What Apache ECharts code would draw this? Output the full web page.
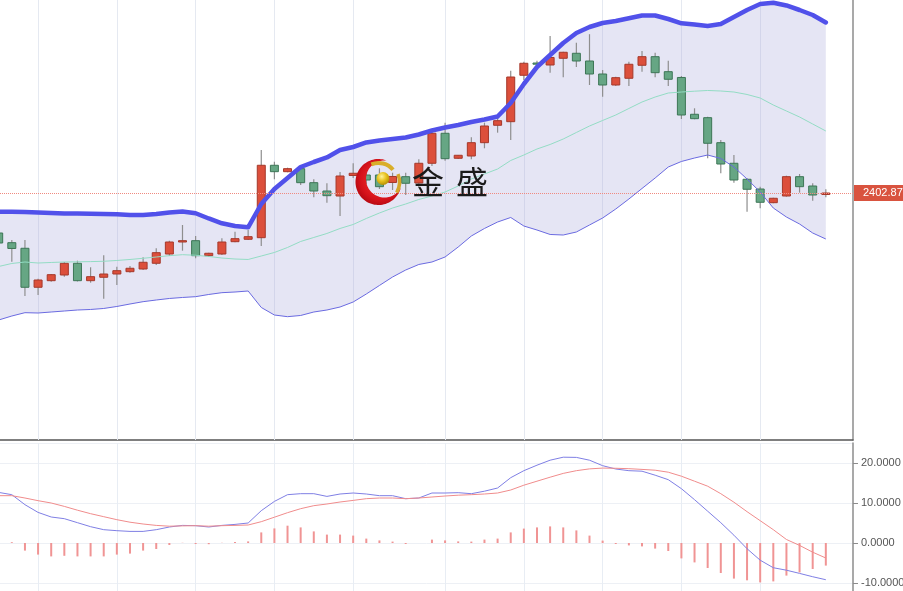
<!DOCTYPE html>
<html>
<head>
<meta charset="utf-8">
<script src="https://cdn.jsdelivr.net/npm/echarts@6/dist/echarts.min.js"></script>
<style>
html,body{margin:0;padding:0;background:#ffffff;}
#c{width:903px;height:591px;}
</style>
</head>
<body>
<div id="c"></div>
<script>
// ---------- DATA ----------
const opens = [2392.87,2390.45,2389.05,2379.30,2380.95,2382.37,2385.30,2380.95,2381.80,2382.62,
  2383.20,2383.87,2385.30,2387.62,2390.62,2390.95,2387.20,2387.62,2390.70,2391.30,
  2391.70,2409.80,2408.20,2408.95,2405.45,2403.37,2402.12,2407.25,2407.37,2407.37,
  2405.50,2406.95,2405.37,2410.30,2417.80,2411.55,2412.12,2415.45,2419.80,2420.70,
  2432.30,2435.37,2434.87,2436.55,2437.80,2435.87,2432.62,2429.87,2431.55,2434.80,
  2436.95,2433.20,2431.75,2422.55,2421.70,2415.45,2410.30,2406.30,2403.87,2400.45,
  2402.12,2406.95,2404.62,2402.50];
const closes = [2390.37,2389.00,2379.30,2381.12,2382.45,2385.30,2380.95,2381.95,2382.62,2383.45,
  2384.05,2385.55,2387.95,2390.62,2390.95,2387.20,2387.80,2390.62,2391.45,2391.95,
  2409.80,2408.20,2408.95,2405.45,2403.37,2402.20,2407.12,2407.80,2406.12,2404.45,
  2407.00,2405.30,2410.30,2417.80,2411.45,2412.30,2415.45,2419.62,2420.95,2431.87,
  2435.30,2435.12,2436.75,2438.05,2435.87,2432.62,2429.87,2431.70,2435.05,2436.95,
  2432.95,2431.30,2422.37,2421.45,2415.30,2410.12,2406.12,2403.80,2400.55,2401.55,
  2406.95,2404.45,2402.37,2402.87];
const lows = [2389.62,2385.70,2377.12,2377.37,2380.70,2381.95,2380.75,2380.45,2376.45,2379.87,
  2382.95,2383.62,2384.87,2387.12,2388.45,2386.55,2386.95,2387.37,2390.55,2391.12,
  2389.62,2406.30,2408.05,2404.87,2401.80,2400.45,2397.12,2406.62,2405.12,2403.87,
  2403.62,2402.37,2404.12,2409.62,2410.95,2411.37,2411.30,2414.05,2417.95,2416.12,
  2431.12,2434.45,2432.95,2431.80,2434.37,2429.87,2426.95,2429.62,2429.62,2433.20,
  2431.80,2429.62,2421.37,2421.30,2411.55,2407.80,2405.45,2398.20,2399.05,2400.30,
  2401.95,2402.95,2400.95,2401.80];
const highs = [2393.62,2391.12,2391.12,2381.45,2382.62,2385.62,2385.95,2384.30,2387.30,2384.45,
  2384.62,2386.80,2389.05,2390.95,2394.87,2392.12,2387.95,2391.55,2393.20,2393.62,
  2413.62,2410.70,2409.20,2409.30,2406.30,2405.30,2408.12,2410.30,2408.37,2409.05,
  2407.95,2407.95,2411.30,2418.80,2420.45,2412.37,2416.80,2420.45,2421.95,2433.45,
  2435.70,2435.95,2442.12,2438.20,2440.45,2442.57,2433.62,2431.95,2435.70,2438.37,
  2437.95,2435.95,2432.12,2424.05,2421.95,2416.12,2412.37,2406.55,2404.45,2401.70,
  2407.20,2407.62,2405.30,2403.80];

const bollUpper = [2398.20,2398.20,2398.12,2398.00,2397.87,2397.75,2397.75,2397.70,2397.62,2397.55,
  2397.37,2397.37,2397.62,2398.00,2398.25,2397.80,2396.50,2395.30,2394.62,2394.30,
  2400.12,2403.87,2406.62,2409.37,2410.62,2411.75,2413.62,2414.37,2415.50,2416.00,
  2416.37,2416.75,2417.50,2418.50,2419.25,2419.87,2420.62,2421.25,2422.00,2425.37,
  2430.12,2434.37,2437.37,2440.37,2442.87,2444.37,2445.37,2445.87,2446.55,2447.25,
  2447.25,2446.37,2445.30,2445.00,2444.62,2445.12,2446.87,2448.62,2450.12,2450.45,
  2449.75,2448.62,2447.37,2445.50];
const bollMid = [2384.50,2385.25,2385.62,2385.37,2385.50,2385.62,2385.67,2385.72,2385.80,2386.00,
  2386.25,2386.55,2386.87,2387.20,2387.45,2387.30,2387.00,2386.62,2386.37,2386.25,
  2387.12,2388.00,2389.25,2390.75,2391.75,2392.75,2394.00,2395.00,2396.50,2397.87,
  2399.12,2400.12,2401.25,2402.12,2403.12,2404.62,2406.37,2407.62,2408.87,2411.00,
  2412.37,2413.87,2415.00,2416.37,2418.00,2419.62,2421.00,2422.37,2424.00,2425.62,
  2426.87,2427.87,2428.12,2428.32,2428.50,2428.37,2428.12,2427.50,2426.62,2424.87,
  2423.37,2421.87,2420.12,2418.37];
const bollLower = [2371.12,2372.12,2372.95,2372.87,2373.12,2373.37,2373.62,2373.75,2374.00,2374.50,
  2375.12,2375.70,2376.12,2376.50,2376.75,2376.95,2377.50,2377.95,2378.12,2378.37,
  2374.25,2372.37,2371.95,2372.25,2373.12,2373.62,2374.37,2375.62,2377.62,2379.75,
  2381.87,2383.62,2385.00,2385.62,2386.87,2389.37,2392.12,2394.00,2395.62,2396.75,
  2394.62,2393.62,2392.50,2392.37,2393.12,2394.87,2396.62,2398.87,2401.37,2404.00,
  2406.62,2409.37,2410.75,2411.62,2412.37,2411.50,2409.37,2406.37,2403.12,2399.12,
  2396.87,2395.12,2392.87,2391.37];

const macdDif = [12.65,12.08,9.58,7.65,6.50,6.08,5.08,4.08,3.33,3.08,
  2.90,2.90,3.33,4.00,4.40,4.33,4.00,4.40,4.65,5.00,
  8.08,10.40,12.08,12.33,12.33,11.65,12.25,12.50,12.25,11.83,
  11.83,11.08,11.25,12.50,12.50,12.58,12.33,12.95,13.75,16.33,
  18.08,19.45,20.70,21.45,21.40,20.70,19.33,18.50,18.08,17.95,
  16.95,15.83,13.58,10.83,7.95,5.08,1.95,-1.43,-4.30,-6.18,
  -6.80,-7.60,-8.43,-9.18];
const macdDea = [11.83,11.83,11.25,10.58,10.00,9.15,8.20,7.33,6.58,5.83,
  5.20,4.75,4.40,4.20,4.28,4.33,4.20,4.33,4.40,4.50,
  5.33,6.45,7.58,8.58,9.33,9.75,10.25,10.65,11.08,11.25,
  11.25,11.08,11.25,11.50,11.75,11.95,12.08,12.25,12.50,13.25,
  14.45,15.45,16.45,17.40,18.08,18.53,18.73,18.68,18.58,18.40,
  18.20,17.70,16.70,15.45,14.20,12.33,10.20,7.83,5.58,3.33,
  0.88,-0.60,-2.30,-3.75];
const macdHist = [0.80,0.20,-1.90,-2.90,-3.35,-3.20,-3.35,-3.35,-3.35,-2.90,
  -2.65,-1.90,-1.50,-0.50,0.05,-0.25,-0.30,0.05,0.25,0.40,
  2.65,3.65,4.33,3.90,2.90,2.10,2.10,1.85,1.10,0.65,
  0.35,-0.25,0.00,0.85,0.65,0.40,0.35,0.85,1.10,2.65,
  3.60,3.90,4.15,3.90,3.15,1.85,0.60,-0.25,-0.60,-0.85,
  -1.40,-2.00,-3.85,-4.85,-6.25,-7.50,-8.90,-9.33,-9.85,-9.60,
  -8.15,-7.35,-6.50,-5.65];

const gridBars = [3, 9, 15, 21, 27, 34, 40, 46, 52, 58];   // bars carrying a vertical grid line
const lastPrice = 2402.87;
const lastPriceLabel = '2402.870';
const macdTickDigits = 4;
const logoText = ['金', '盛'];

// ---------- BUILD ----------
const idx = opens.map((_, i) => i);
const candleData = idx.map(i => [i, opens[i], closes[i], lows[i], highs[i]]);
const pair = arr => arr.map((v, i) => [i, v]);

const X_MIN = 0.1, X_MAX = 65.07;

function renderCandle(params, api) {
  const i = api.value(0);
  const o = api.value(1), c = api.value(2), l = api.value(3), h = api.value(4);
  const pO = api.coord([i, o]), pC = api.coord([i, c]);
  const pL = api.coord([i, l]), pH = api.coord([i, h]);
  const up = c >= o;
  const w = 8;
  const top = Math.min(pO[1], pC[1]);
  const hgt = Math.max(Math.abs(pO[1] - pC[1]), 1.2);
  return {
    type: 'group',
    children: [
      { type: 'line', shape: { x1: pH[0], y1: pH[1], x2: pL[0], y2: pL[1] },
        style: { stroke: '#8e8e8e', lineWidth: 1.2 } },
      { type: 'rect', shape: { x: pO[0] - w / 2, y: top, width: w, height: hgt },
        style: { fill: up ? '#dc4f3b' : '#66a684', stroke: up ? '#a5382a' : '#3d7656', lineWidth: 1 } }
    ]
  };
}

function renderBand(params, api) {
  if (params.dataIndex !== 0) return;
  const pts = [];
  for (let i = 0; i < bollUpper.length; i++) pts.push(api.coord([i, bollUpper[i]]));
  for (let i = bollLower.length - 1; i >= 0; i--) pts.push(api.coord([i, bollLower[i]]));
  return { type: 'polygon', shape: { points: pts }, style: { fill: 'rgba(170,170,220,0.30)' } };
}

// logo geometry (decorative)
const LC = [378.5, 182];
function crescent() {
  const pts = [];
  const R = 23, ic = [6, -3], r = 18.5;
  const a0 = -67.8, a1 = 14.7 - 360;
  for (let a = a0; a >= a1; a -= 4) {
    const t = a * Math.PI / 180;
    pts.push([LC[0] + R * Math.cos(t), LC[1] + R * Math.sin(t)]);
  }
  const b0 = 28.5, b1 = 278.3;
  for (let a = b0; a <= b1; a += 4) {
    const t = a * Math.PI / 180;
    pts.push([LC[0] + ic[0] + r * Math.cos(t), LC[1] + ic[1] + r * Math.sin(t)]);
  }
  return pts;
}
const deg = d => d * Math.PI / 180;

const chart = echarts.init(document.getElementById('c'), null, { renderer: 'canvas' });

const option = {
  animation: false,
  backgroundColor: '#ffffff',
  textStyle: { fontFamily: 'Liberation Sans, Arial, sans-serif' },
  grid: [
    { left: 0, right: 50, top: 0, height: 440, containLabel: false, outerBoundsMode: 'none' },
    { left: 0, right: 50, top: 443, height: 148, containLabel: false, outerBoundsMode: 'none' }
  ],
  xAxis: [
    { type: 'value', gridIndex: 0, min: X_MIN, max: X_MAX,
      axisLine: { show: true, onZero: false, lineStyle: { color: '#555', width: 1.5 } },
      axisTick: { show: false }, axisLabel: { show: false }, splitLine: { show: false } },
    { type: 'value', gridIndex: 1, min: X_MIN, max: X_MAX,
      axisLine: { show: false }, axisTick: { show: false }, axisLabel: { show: false },
      splitLine: { show: false } }
  ],
  yAxis: [
    { type: 'value', gridIndex: 0, position: 'right', min: 2341.12, max: 2451.12,
      axisLine: { show: true, lineStyle: { color: '#8c8c8c', width: 1.5 } },
      axisTick: { show: false }, axisLabel: { show: false }, splitLine: { show: false } },
    { type: 'value', gridIndex: 1, position: 'right', min: -12, max: 25, splitNumber: 4,
      axisLine: { show: true, lineStyle: { color: '#8c8c8c', width: 1.5 } },
      axisTick: { show: true, length: 5, lineStyle: { color: '#8c8c8c' } },
      axisLabel: { show: true, showMinLabel: false, showMaxLabel: false, color: '#555',
        fontSize: 11, margin: 8, formatter: v => v.toFixed(macdTickDigits) },
      splitLine: { show: true, lineStyle: { color: '#edf0f5', width: 1 } } }
  ],
  series: [
    { name: 'band', type: 'custom', xAxisIndex: 0, yAxisIndex: 0, z: 1, clip: true,
      renderItem: renderBand, encode: { x: 0, y: 1 }, data: [[0, bollUpper[0]]], silent: true },
    { name: 'lower', type: 'line', xAxisIndex: 0, yAxisIndex: 0,
      data: pair(bollLower), symbol: 'none', z: 3,
      lineStyle: { color: '#6a6ae0', width: 1 },
      markLine: { silent: true, symbol: ['none', 'none'], z: 1, label: { show: false },
        lineStyle: { color: '#e5e9f1', width: 1, type: 'solid' },
        data: gridBars.map(v => ({ xAxis: v })) } },
    { name: 'candles', type: 'custom', xAxisIndex: 0, yAxisIndex: 0, z: 2, clip: true,
      renderItem: renderCandle, encode: { x: 0, y: [1, 2, 3, 4] }, data: candleData },
    { name: 'mid', type: 'line', xAxisIndex: 0, yAxisIndex: 0, data: pair(bollMid),
      symbol: 'none', z: 3, lineStyle: { color: '#93dcc4', width: 1 },
      markLine: { silent: true, symbol: ['none', 'none'], z: 4,
        data: [{ yAxis: lastPrice,
          lineStyle: { color: '#f08a80', type: 'dotted', width: 1 },
          label: { show: true, position: 'end', distance: 1, formatter: lastPriceLabel,
            color: '#ffffff', backgroundColor: '#d9533f', fontSize: 11, lineHeight: 12,
            padding: [2, 4, 2, 9], fontFamily: 'Liberation Sans, Arial, sans-serif' } }] } },
    { name: 'upper', type: 'line', xAxisIndex: 0, yAxisIndex: 0, data: pair(bollUpper),
      symbol: 'none', z: 3,
      lineStyle: { color: '#5151ea', width: 4.5, cap: 'round', join: 'round' } },

    { name: 'hist', type: 'bar', xAxisIndex: 1, yAxisIndex: 1, data: pair(macdHist),
      barWidth: 2, itemStyle: { color: '#f09494' },
      markLine: { silent: true, symbol: ['none', 'none'], z: 1, label: { show: false },
        lineStyle: { color: '#e8edf4', width: 1, type: 'solid' },
        data: gridBars.map(v => ({ xAxis: v })) } },
    { name: 'dif', type: 'line', xAxisIndex: 1, yAxisIndex: 1, data: pair(macdDif),
      symbol: 'none', lineStyle: { color: '#7f7fe4', width: 1 } },
    { name: 'dea', type: 'line', xAxisIndex: 1, yAxisIndex: 1, data: pair(macdDea),
      symbol: 'none', lineStyle: { color: '#f08c8c', width: 1 } }
  ],
  graphic: [
    { type: 'polygon', z: 100, shape: { points: crescent() },
      style: { fill: { type: 'radial', x: 0.55, y: 0.45, r: 0.75,
        colorStops: [{ offset: 0, color: '#ff3a32' }, { offset: 0.6, color: '#d4121a' }, { offset: 1, color: '#8e0008' }] } } },
    { type: 'arc', z: 101, shape: { cx: LC[0], cy: LC[1], r: 19, startAngle: deg(-112), endAngle: deg(-40) },
      style: { stroke: '#d9ae2a', lineWidth: 4, fill: null } },
    { type: 'arc', z: 101, shape: { cx: LC[0], cy: LC[1], r: 21, startAngle: deg(-22), endAngle: deg(30) },
      style: { stroke: '#d4a62a', lineWidth: 3.5, fill: null } },
    { type: 'circle', z: 102, shape: { cx: 383, cy: 178.5, r: 6.5 },
      style: { fill: { type: 'radial', x: 0.4, y: 0.35, r: 0.7,
        colorStops: [{ offset: 0, color: '#fff39a' }, { offset: 0.5, color: '#e8c21e' }, { offset: 1, color: '#b08a00' }] } } },
    { type: 'text', z: 103, x: 412, y: 182,
      style: { text: logoText[0], fontSize: 32, fontFamily: 'Noto Sans CJK SC', fill: '#1a1a1a', verticalAlign: 'middle' } },
    { type: 'text', z: 103, x: 456, y: 182,
      style: { text: logoText[1], fontSize: 32, fontFamily: 'Noto Sans CJK SC', fill: '#1a1a1a', verticalAlign: 'middle' } }
  ]
};

chart.setOption(option);
</script>
</body>
</html>
